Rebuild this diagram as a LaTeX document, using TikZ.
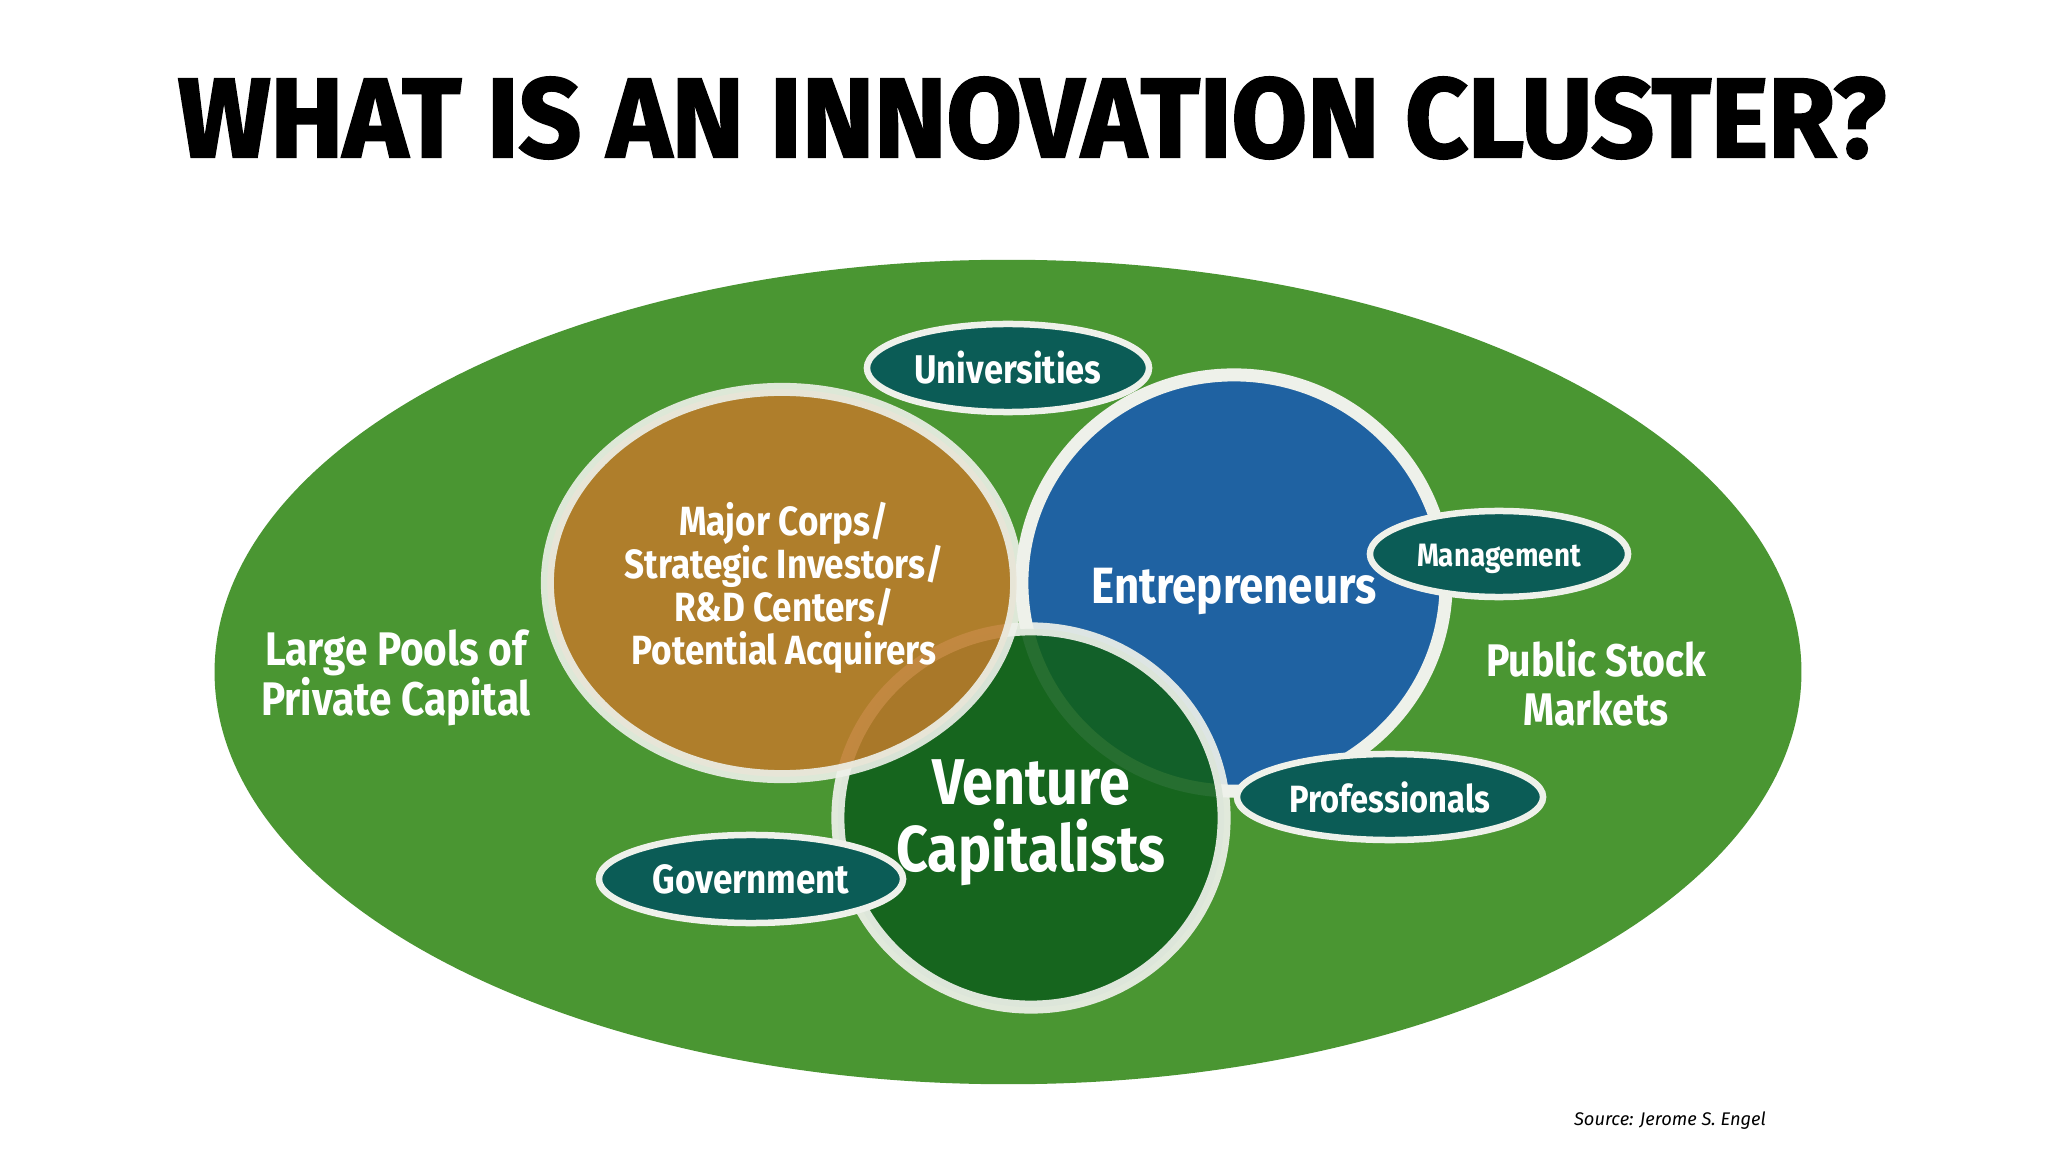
\documentclass[tikz,border=0pt]{standalone}
\usepackage{fontspec}
\usetikzlibrary{shapes.geometric}
\newfontfamily\labelfont[FakeStretch=0.86]{Fira Sans}
\newfontfamily\titlefont[FakeStretch=0.97, BoldFeatures={FakeBold=2}]{Fira Sans}
\newfontfamily\notefont{Fira Sans}
\definecolor{field}{HTML}{4A9632}
\definecolor{corps}{HTML}{BE7B2B}
\definecolor{founders}{HTML}{1F62A2}
\definecolor{venture}{HTML}{11601C}
\definecolor{tagfill}{HTML}{0B5C56}
\definecolor{rim}{HTML}{EEF1EA}

\begin{document}
\begin{tikzpicture}[x=0.01cm, y=-0.01cm,
	ring/.style={ellipse, draw=rim, line width=0.13cm, inner sep=0pt},
	tag/.style={ellipse, draw=rim, line width=0.065cm, fill=tagfill, inner sep=0pt, text=white},
	lbl/.style={text=white, align=center}]
	\fill[white] (0,0) rectangle (2048,1152);
	\useasboundingbox (0,0) rectangle (2048,1152);
	% title
	\node (title) at (1032,118) {\titlefont\bfseries\fontsize{32}{34}\selectfont WHAT IS AN INNOVATION CLUSTER?};
	% cluster field
	\node [ellipse, fill=field, minimum width=15.86cm, minimum height=8.24cm] (field) at (1008,672) {};
	% main circles
	\node [ring, fill=founders, minimum width=4.24cm, minimum height=4.16cm] (entre) at (1234,583) {};
	\node [ring, fill=venture, fill opacity=0.9, draw opacity=0.92, minimum width=3.86cm, minimum height=3.78cm] (vc) at (1031,818) {};
	\node [ring, fill=corps, fill opacity=0.88, draw opacity=0.9, minimum width=4.69cm, minimum height=3.87cm] (corps) at (782,583) {};
	\node [lbl, font=\labelfont\bfseries\fontsize{14.5}{16}\selectfont] (entretext) at (1234,591) {Entrepreneurs};
	\node [lbl, font=\labelfont\bfseries\fontsize{18.4}{19.1}\selectfont] (vctext) at (1031,823) {Venture\\Capitalists};
	\node [lbl, font=\labelfont\bfseries\fontsize{11.6}{12.2}\selectfont] (corpstext) at (784,588)
		{Major Corps/\\Strategic Investors/\\R\&D Centers/\\Potential Acquirers};
	% small partners
	\node [tag, minimum width=2.82cm, minimum height=0.88cm, font=\labelfont\bfseries\fontsize{11.4}{12}\selectfont] (univ) at (1008,368) {Universities};
	\node [tag, minimum width=2.58cm, minimum height=0.86cm, font=\labelfont\bfseries\fontsize{9.2}{10}\selectfont] (mgmt) at (1499,554) {};
	\node [lbl, font=\labelfont\bfseries\fontsize{9.2}{10}\selectfont] (mgmttext) at (1499,559) {Management};
	\node [tag, minimum width=3.06cm, minimum height=0.86cm, font=\labelfont\bfseries\fontsize{10.8}{12}\selectfont] (prof) at (1390,797) {Professionals};
	\node [tag, minimum width=3.04cm, minimum height=0.88cm, font=\labelfont\bfseries\fontsize{11.6}{12}\selectfont] (gov) at (751,879) {Government};
	% capital and markets
	\node [lbl, font=\labelfont\bfseries\fontsize{13.4}{14.1}\selectfont] (capital) at (396,678) {Large Pools of\\Private Capital};
	\node [lbl, font=\labelfont\bfseries\fontsize{13}{14.1}\selectfont] (markets) at (1596,683) {Public Stock\\Markets};
	\node [font=\notefont\itshape\fontsize{5.2}{6}\selectfont] (source) at (1670,1121) {Source: Jerome S. Engel};
\end{tikzpicture}
\end{document}
